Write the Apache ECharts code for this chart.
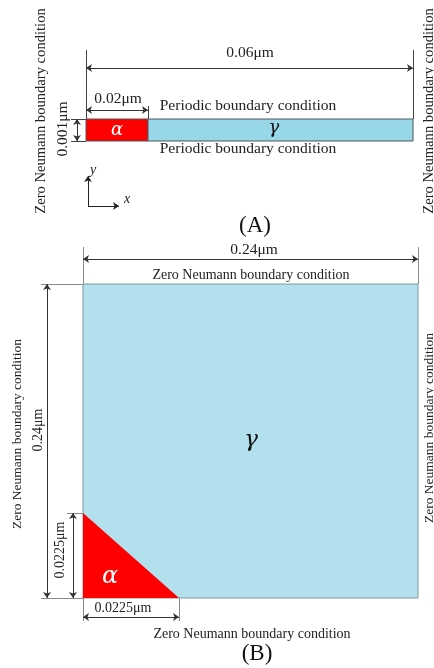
<!DOCTYPE html>
<html><head><meta charset="utf-8">
<script src="https://cdn.jsdelivr.net/npm/echarts@6/dist/echarts.min.js"></script>
<style>html,body{margin:0;padding:0;background:#fff}#c{width:434px;height:668px}</style>
</head><body><div id="c"></div>
<script>
// ---- Diagram data (schematic units, y pointing down) ----
const regionPhase = ['alpha', 'gamma', 'gamma', 'alpha'];
const regionPanel = ['A', 'A', 'B', 'B'];
const regionPoints = [
  [[86,119],[148,119],[148,141],[86,141]],
  [[148,119],[413,119],[413,141],[148,141]],
  [[83,284],[418,284],[418,598],[83,598]],
  [[83,513],[83,598],[179,598]]
];
const dimensionLines = [
  [[86,68],[413,68]], [[86,110],[148,110]], [[77,119],[77,141]],
  [[83,259],[418,259]], [[47,284],[47,598]], [[73,513],[73,598]], [[83,617],[179,617]]
];
const extensionLinesA = [
  [[86,50],[86,119]], [[413,50],[413,119]], [[148,106],[148,119]],
  [[71,119],[86,119]], [[71,141],[86,141]]
];
const extensionLinesB = [
  [[83,247],[83,284]], [[418,247],[418,284]], [[41,284],[83,284]], [[41,598],[83,598]],
  [[67,513],[83,513]], [[83,598],[83,621]], [[179,598],[179,621]]
];
const axisArrows = [[[88,206],[88,176]], [[88,206],[119,206]]];
const labelTexts = [
  'Zero Neumann boundary condition', 'Zero Neumann boundary condition', '0.06μm', '0.02μm',
  'Periodic boundary condition', 'Periodic boundary condition', '0.001μm', 'α', 'γ', 'y', 'x', '(A)',
  '0.24μm', 'Zero Neumann boundary condition', 'Zero Neumann boundary condition', '0.24μm', '0.0225μm',
  'α', 'γ', '0.0225μm', 'Zero Neumann boundary condition', 'Zero Neumann boundary condition', '(B)'
];
const labelAnchors = [
  [41,111], [429,111], [250,53], [118,99],
  [248,106], [248,149], [63,129], [117,130], [274,128], [93,170], [127,199], [255,226],
  [254,250], [251,275], [17,434], [38,430], [60,550],
  [110,577], [251,440], [123,608], [252,634], [429,428], [257,654]
];
const labelVertical = [1,1,0,0, 0,0,1,0,0,0,0,0, 0,0,1,1,1, 0,0,0,0,1,0];
// ---- Styles ----
const phaseColor = { alpha: '#ff0000', gammaA: '#98d7e8', gammaB: '#b2e0ec' };
const labelStyle = [
  'vA','vA','n15','n15', 'p15','p15','n15','aW','gA','it','it','big',
  'n15','n14','vB','n14','n14', 'aWB','gB','n14','n14','vB','big'
];
const styleDefs = {
  vA:  {font: '14.6px "Liberation Serif"', fill: '#222'},
  vB:  {font: '13.5px "Liberation Serif"', fill: '#222'},
  n14: {font: '14px "Liberation Serif"', fill: '#222'},
  n15: {font: '15.5px "Liberation Serif"', fill: '#222'},
  p15: {font: '15.5px "Liberation Serif"', fill: '#222'},
  aW:  {font: 'italic 18px "DejaVu Serif"', fill: '#fff'},
  aWB: {font: 'italic 24px "DejaVu Serif"', fill: '#fff'},
  gA:  {font: 'italic 18px "DejaVu Serif"', fill: '#111'},
  gB:  {font: 'italic 23px "DejaVu Serif"', fill: '#111'},
  it:  {font: 'italic 14px "Liberation Serif"', fill: '#222'},
  big: {font: '23px "Liberation Serif"', fill: '#111'}
};

const chart = echarts.init(document.getElementById('c'));
const idx = arr => arr.map((_, i) => [i]);
chart.setOption({
  animation: false,
  backgroundColor: '#fff',
  grid: {left: 0, right: 0, top: 0, bottom: 0},
  xAxis: {type: 'value', min: 0, max: 434, show: false},
  yAxis: {type: 'value', min: 0, max: 668, inverse: true, show: false},
  series: [
    {
      type: 'custom', data: idx(regionPoints), silent: true, z: 1,
      renderItem: function (params, api) {
        const i = params.dataIndex;
        const pts = regionPoints[i].map(p => api.coord(p));
        let fill = regionPhase[i] === 'alpha' ? phaseColor.alpha :
          (regionPanel[i] === 'A' ? phaseColor.gammaA : phaseColor.gammaB);
        let stroke = regionPanel[i] === 'A' ? '#555' : '#7f98a0';
        if (regionPhase[i] === 'alpha' && regionPanel[i] === 'B') stroke = 'rgba(0,0,0,0)';
        return {type: 'polygon', shape: {points: pts}, style: {fill: fill, stroke: stroke, lineWidth: 1}};
      }
    },
    {
      type: 'lines', coordinateSystem: 'cartesian2d', z: 3, silent: true,
      data: extensionLinesA.map(c => ({coords: c})),
      symbol: ['none', 'none'], lineStyle: {color: '#444', width: 1, opacity: 1}
    },
    {
      type: 'lines', coordinateSystem: 'cartesian2d', z: 3, silent: true,
      data: extensionLinesB.map(c => ({coords: c})),
      symbol: ['none', 'none'], lineStyle: {color: '#8a8a8a', width: 1, opacity: 1}
    },
    {
      type: 'lines', coordinateSystem: 'cartesian2d', z: 4, silent: true,
      data: dimensionLines.map(c => ({coords: c})),
      symbol: ['arrow', 'arrow'], symbolSize: 6,
      lineStyle: {color: '#333', width: 1, opacity: 1}
    },
    {
      type: 'lines', coordinateSystem: 'cartesian2d', z: 4, silent: true,
      data: axisArrows.map(c => ({coords: c})),
      symbol: ['none', 'arrow'], symbolSize: 6,
      lineStyle: {color: '#222', width: 1, opacity: 1}
    },
    {
      type: 'custom', data: idx(labelTexts), silent: true, z: 5,
      renderItem: function (params, api) {
        const i = params.dataIndex;
        const p = api.coord(labelAnchors[i]);
        const s = styleDefs[labelStyle[i]];
        return {
          type: 'text', x: p[0], y: p[1],
          rotation: labelVertical[i] ? Math.PI / 2 : 0,
          style: {text: labelTexts[i], x: 0, y: 0, align: 'center', verticalAlign: 'middle',
                  font: s.font, fill: s.fill}
        };
      }
    }
  ]
});
</script></body></html>
